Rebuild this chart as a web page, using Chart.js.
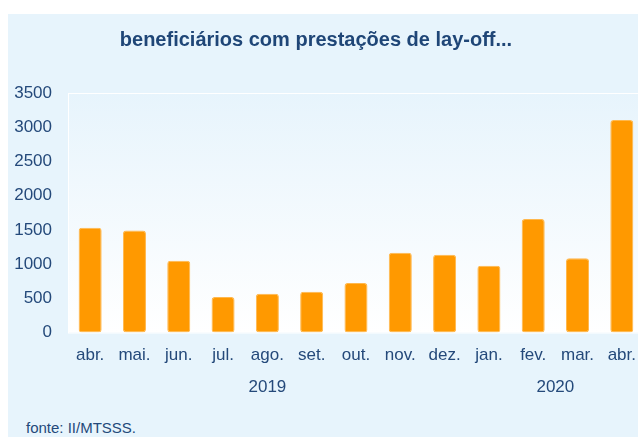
<!DOCTYPE html>
<html>
<head>
<meta charset="utf-8">
<script src="https://cdn.jsdelivr.net/npm/chart.js@4/dist/chart.umd.min.js"></script>
<style>
  html, body { margin: 0; padding: 0; background: #fff; width: 638px; height: 437px; overflow: hidden; }
  #box { position: absolute; left: 8px; top: 14px; width: 645px; height: 423px; background: #e7f4fc; }
  #title { position: absolute; left: 0; top: 27px; width: 632px; text-align: center;
    font: bold 20px "Liberation Sans", Arial, sans-serif; line-height: 24px; color: #1f4677; }
  #fonte { position: absolute; left: 26px; top: 419px; font: 15px "Liberation Sans", Arial, sans-serif;
    line-height: 18px; color: #24497a; }
  #wrap { position: absolute; left: 0; top: 0; width: 641px; height: 400px; }
</style>
</head>
<body>
<div id="box">
  <div id="wrap"><canvas id="chart" width="641" height="400"></canvas></div>
</div>
<div id="title">beneficiários com prestações de lay-off...</div>
<div id="fonte">fonte: II/MTSSS.</div>
<script>
// data
const months = ['abr.', 'mai.', 'jun.', 'jul.', 'ago.', 'set.', 'out.', 'nov.', 'dez.', 'jan.', 'fev.', 'mar.', 'abr.'];
const beneficiarios = [1530, 1490, 1050, 520, 565, 595, 725, 1165, 1135, 975, 1660, 1085, 3105];
const years = ['2019', '2020'];
const yearFirst = [0, 9];   // first month index of each year
const yearLast = [8, 12];   // last month index of each year
const yTicks = [0, 500, 1000, 1500, 2000, 2500, 3000, 3500];

const textColor = '#24497a';
const tickFont = { family: '"Liberation Sans", Arial, sans-serif', size: 17 };

// year label sits in the middle of its months
let yearCenters = years.map((y, i) => (yearFirst[i] + yearLast[i]) / 2);

// light gradient behind the bars
const plotBackground = {
  id: 'plotBackground',
  beforeDraw(chart) {
    let a = chart.chartArea;
    let ctx = chart.ctx;
    let g = ctx.createLinearGradient(0, a.top, 0, a.bottom);
    g.addColorStop(0, '#e7f4fc');
    g.addColorStop(1, '#ffffff');
    ctx.save();
    ctx.fillStyle = g;
    ctx.fillRect(a.left, a.top, a.right - a.left, a.bottom - a.top);
    ctx.strokeStyle = '#ffffff';
    ctx.lineWidth = 1;
    ctx.strokeRect(a.left + 0.5, a.top + 0.5, a.right - a.left, a.bottom - a.top);
    ctx.restore();
  }
};

var ctx = document.getElementById('chart').getContext('2d');
var myChart = new Chart(ctx, {
  type: 'bar',
  data: {
    labels: months,
    datasets: [{
      label: 'beneficiários',
      data: beneficiarios,
      backgroundColor: '#ff9900',
      borderColor: '#ffb84d',
      borderWidth: 1,
      borderRadius: 3,
      borderSkipped: false,
      barPercentage: 0.52,
      categoryPercentage: 1
    }]
  },
  options: {
    responsive: false,
    animation: false,
    layout: { padding: { top: 79, left: 0, right: 0, bottom: 17.5 } },
    plugins: {
      legend: { display: false },
      title: { display: false },
      tooltip: { enabled: false }
    },
    scales: {
      y: {
        min: 0,
        max: 3500,
        afterFit: (scale) => { scale.width = 60; },
        afterBuildTicks: (axis) => { axis.ticks = yTicks.map(v => ({ value: v })); },
        grid: { display: false, drawTicks: false },
        border: { display: false },
        ticks: { color: textColor, font: tickFont, padding: 16, callback: (v) => String(v) }
      },
      x: {
        afterFit: (scale) => { scale.height = 32; },
        grid: { display: false, drawTicks: false },
        border: { display: false },
        ticks: { color: textColor, font: tickFont, padding: 13, maxRotation: 0, autoSkip: false }
      },
      // second row under the months: the years, on the same -0.5..12.5 span
      years: {
        type: 'linear',
        position: 'bottom',
        offset: false,
        min: -0.5,
        max: months.length - 0.5,
        afterFit: (scale) => { scale.height = 32; },
        afterBuildTicks: (axis) => { axis.ticks = yearCenters.map(v => ({ value: v })); },
        grid: { display: false, drawTicks: false },
        border: { display: false },
        ticks: {
          color: textColor,
          font: tickFont,
          padding: 12.5,
          maxRotation: 0,
          autoSkip: false,
          callback: (v) => years[yearCenters.indexOf(v)]
        }
      }
    }
  },
  plugins: [plotBackground]
});
</script>
</body>
</html>
